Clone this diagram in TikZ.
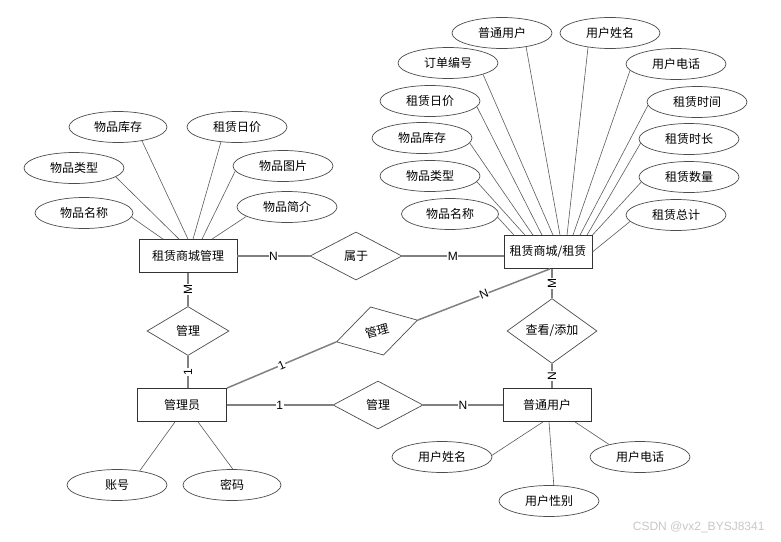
\documentclass[tikz,border=0pt]{standalone}
\usepackage{fontspec}
\setmainfont{Liberation Sans}
\newfontfamily\cjk{Noto Sans CJK SC}
\usetikzlibrary{shapes.geometric}
\definecolor{relgray}{RGB}{128,128,128}
\definecolor{attrgray}{RGB}{90,90,90}

\begin{document}
\begin{tikzpicture}[x=1pt, y=-1pt,
		entity/.style={draw=black!80, line width=0.8pt, fill=white, minimum height=33pt, inner sep=0pt, font=\cjk\fontsize{12}{14}\selectfont},
		relbox/.style={diamond, draw=black!70, line width=0.7pt, fill=white, inner sep=0pt, font=\cjk\fontsize{12}{14}\selectfont},
		attr/.style={ellipse, draw=black!70, line width=0.7pt, fill=white, minimum width=100pt, minimum height=31pt, inner sep=0pt, font=\cjk\fontsize{12}{14}\selectfont},
		rel/.style={draw=relgray, line width=1.5pt},
		attrline/.style={draw=attrgray, line width=0.6pt},
		card/.style={fill=white, inner sep=0.5pt, font=\fontsize{12}{14}\selectfont}]
		%%%%% START %%%%%
		
		\useasboundingbox (0, 0) rectangle (781, 541);
		
		\node[entity, minimum width=98pt] (shop) at (188, 256) {租赁商城管理};
		\node[entity, minimum width=88pt] (rent) at (548, 252) {租赁商城/租赁};
		\node[entity, minimum width=89pt] (admin) at (182, 405) {管理员};
		\node[entity, minimum width=88pt] (user) at (547, 405) {普通用户};
		
		\node[relbox, minimum width=92pt, minimum height=48pt] (belong) at (356, 256) {属于};
		\node[relbox, minimum width=82pt, minimum height=49pt] (mgrshop) at (188, 331) {管理};
		\node[relbox, minimum width=84pt, minimum height=50pt, rotate=15] (mgrrent) at (377, 331) {管理};
		\node[relbox, minimum width=90pt, minimum height=48pt] (mgruser) at (378, 405) {管理};
		\node[relbox, minimum width=90pt, minimum height=49pt] (view) at (552, 331) {查看/添加};
		
		% attributes of the shop
		\node[attr, minimum width=98pt] (sstock) at (118, 127) {物品库存};
		\node[attr] (sprice) at (237, 127) {租赁日价};
		\node[attr] (stype) at (74, 168) {物品类型};
		\node[attr] (spic) at (283, 166) {物品图片};
		\node[attr, minimum width=98pt] (sname) at (84, 213) {物品名称};
		\node[attr] (sintro) at (287, 207) {物品简介};
		
		\draw[attrline] (sstock.-30) -- (shop.north);
		\draw[attrline] (sprice.-137) -- ([xshift=5]shop.north);
		\draw[attrline] (stype.-12) -- ([xshift=-9]shop.north);
		\draw[attrline] (spic.-174) -- ([xshift=14]shop.north);
		\draw[attrline] (sname.-5) -- ([xshift=-25]shop.north);
		\draw[attrline] (sintro.-167) -- ([xshift=24]shop.north);
		
		% attributes of the rent
		\node[attr] (ruser) at (502, 33) {普通用户};
		\node[attr] (rname) at (610, 33) {用户姓名};
		\node[attr] (rorder) at (448, 63) {订单编号};
		\node[attr] (rtel) at (676, 64) {用户电话};
		\node[attr] (rprice) at (430, 101) {租赁日价};
		\node[attr] (rtime) at (697, 102) {租赁时间};
		\node[attr] (rstock) at (422, 138) {物品库存};
		\node[attr] (rlong) at (689, 139) {租赁时长};
		\node[attr] (rtype) at (430, 176) {物品类型};
		\node[attr] (rnum) at (689, 177) {租赁数量};
		\node[attr, minimum width=97pt] (rgoods) at (450, 214) {物品名称};
		\node[attr] (rsum) at (676, 215) {租赁总计};
		
		\draw[attrline] (ruser.-30) -- ([xshift=12]rent.north);
		\draw[attrline] (rname.-147) -- ([xshift=19]rent.north);
		\draw[attrline] (rorder.-18) -- ([xshift=5]rent.north);
		\draw[attrline] (rtel.-172) -- ([xshift=25]rent.north);
		\draw[attrline] (rprice.-7) -- ([xshift=-6]rent.north);
		\draw[attrline] (rtime.-176) -- ([xshift=32]rent.north);
		\draw[attrline] (rstock.-6) -- ([xshift=-15]rent.north);
		\draw[attrline] (rlong.-175) -- ([xshift=39]rent.north);
		\draw[attrline] (rtype.-7) -- ([xshift=-23]rent.north);
		\draw[attrline] (rnum.-174) -- (rent.north east);
		\draw[attrline] (rgoods.-4) -- ([xshift=-34]rent.north);
		\draw[attrline] (rsum.-172) -- (rent.east);
		
		% attributes of the user
		\node[attr] (uname) at (442, 457) {用户姓名};
		\node[attr] (usex) at (549, 501) {用户性别};
		\node[attr] (utel) at (640, 457) {用户电话};
		
		\draw[attrline] (uname.2) -- ([xshift=-4]user.south);
		\draw[attrline] (usex.73) -- ([xshift=2]user.south);
		\draw[attrline] (utel.158) -- ([xshift=28]user.south);
		
		% attributes of the admin
		\node[attr] (account) at (117, 485) {账号};
		\node[attr, minimum width=98pt] (passwd) at (232, 485) {密码};
		
		\draw[attrline] (account.32) -- ([xshift=-7]admin.south);
		\draw[attrline] (passwd.87) -- ([xshift=16]admin.south);
		
		% relations
		\draw[rel] (shop) -- node[card] {N} (belong);
		\draw[rel] (belong) -- node[card] {M} (belong.east -| rent.west);
		\draw[rel] (shop) -- node[card, rotate=90] {M} (mgrshop);
		\draw[rel] (mgrshop) -- node[card, rotate=90] {1} (mgrshop.south |- admin.north);
		\draw[rel] (admin.north east) -- node[card, sloped] {1} (mgrrent.west);
		\draw[rel] (mgrrent.east) -- node[card, sloped] {N} ([xshift=2]rent.south);
		\draw[rel] ([xshift=4]rent.south) -- node[card, rotate=90] {M} (view);
		\draw[rel] (view) -- node[card, rotate=90] {N} (view.south |- user.north);
		\draw[rel] (admin) -- node[card] {1} (mgruser);
		\draw[rel] (mgruser) -- node[card] {N} (user);
		
		\node[text=black!22, font=\fontsize{12}{14}\selectfont, anchor=east] (mark) at (768, 527) {CSDN @vx2\_BYSJ8341};
		
		%%%%% END %%%%%
	\end{tikzpicture}
\end{document}
